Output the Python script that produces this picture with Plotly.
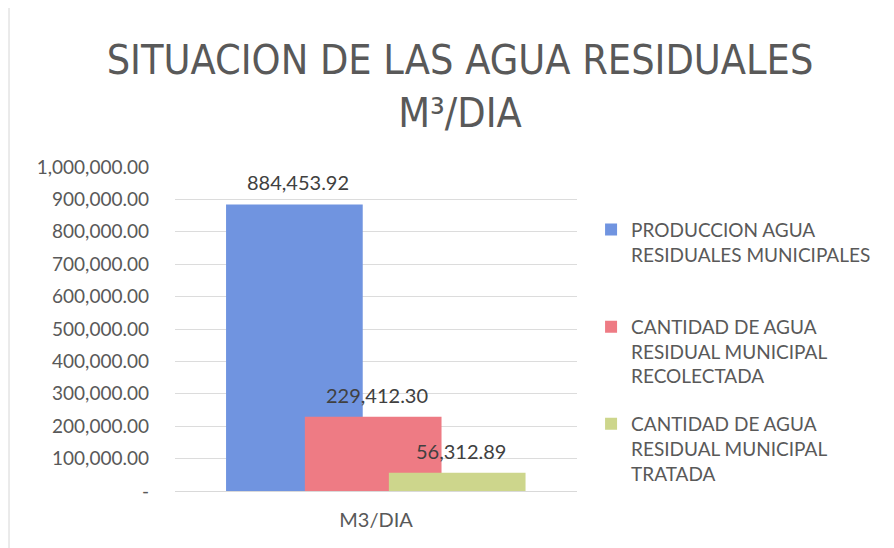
import plotly.graph_objects as go

category = ["M3/DIA"]
series_names = [
    "PRODUCCION AGUA<br>RESIDUALES MUNICIPALES<br> ",
    "CANTIDAD DE AGUA<br>RESIDUAL MUNICIPAL<br>RECOLECTADA",
    "CANTIDAD DE AGUA<br>RESIDUAL MUNICIPAL<br>TRATADA",
]
produccion = [884453.92]
recolectada = [229412.30]
tratada = [56312.89]
tick_vals = [0, 100000, 200000, 300000, 400000, 500000, 600000, 700000, 800000, 900000, 1000000]
tick_text = ["-", "100,000.00", "200,000.00", "300,000.00", "400,000.00", "500,000.00",
             "600,000.00", "700,000.00", "800,000.00", "900,000.00", "1,000,000.00"]

colors = ["#7094E0", "#EE7B84", "#CDD68C"]
offsets = [-0.373, -0.177, 0.032]
bar_w = 0.34
FONT = "Lato"
TITLE_FONT = "Liberation Sans Narrow, DejaVu Sans Condensed, Lato"
GRAY = "#595959"

fig = go.Figure()
all_vals = [produccion, recolectada, tratada]
for i, (name, vals) in enumerate(zip(series_names, all_vals)):
    fig.add_trace(go.Bar(
        x=category, y=vals, name=name,
        marker=dict(color=colors[i], line=dict(width=0)),
        offset=offsets[i], width=bar_w,
        legendgroup=str(i),
    ))
    # value label above each bar
    fig.add_annotation(
        x=offsets[i] + bar_w / 2 + 0.01, y=vals[0], xref="x", yref="y",
        text=f"{vals[0]:,.2f}", showarrow=False,
        yanchor="bottom", yshift=8,
        font=dict(family=FONT, size=20, color="#404040"),
    )

fig.update_layout(
    width=886, height=540,
    barmode="overlay",
    paper_bgcolor="white", plot_bgcolor="white",
    margin=dict(l=167, r=317, t=159, b=57),
    title=dict(
        text="SITUACION DE LAS AGUA RESIDUALES<br>M³/DIA",
        x=452 / 886, xanchor="center", y=1 - 66 / 540, yanchor="middle",
        font=dict(family=TITLE_FONT, size=41, color=GRAY),
    ),
    font=dict(family=FONT, color=GRAY),
    showlegend=True,
    legend=dict(
        x=1.035, y=0.865, xanchor="left", yanchor="top",
        font=dict(family=FONT, size=19, color=GRAY),
        tracegroupgap=20, valign="top", itemwidth=30,
        bgcolor="rgba(0,0,0,0)",
    ),
)
fig.update_xaxes(
    type="category", range=[-0.5, 0.5], showgrid=False,
    showline=True, linecolor="#d9d9d9", linewidth=1,
    tickfont=dict(family=FONT, size=20, color=GRAY),
    ticklabelstandoff=11, ticks="",
)
fig.update_yaxes(
    range=[0, 1000000], tickvals=tick_vals, ticktext=tick_text,
    showgrid=True, gridcolor="#dcdcdc", gridwidth=1, zeroline=False,
    tickfont=dict(family=FONT, size=19, color=GRAY),
    ticklabelstandoff=25,
)
# faint outer frame (top and left edges)
fig.add_shape(type="line", xref="paper", yref="paper",
              x0=-167 / 402, x1=(886 - 167) / 402, y0=(483 + 1) / 324, y1=(483 + 1) / 324,
              line=dict(color="#d6d6d6", width=1), layer="below")
fig.add_shape(type="line", xref="paper", yref="paper",
              x0=-166 / 402, x1=-166 / 402, y0=-57 / 324, y1=(483 + 1) / 324,
              line=dict(color="#d6d6d6", width=1), layer="below")
fig.write_html("out.html")
